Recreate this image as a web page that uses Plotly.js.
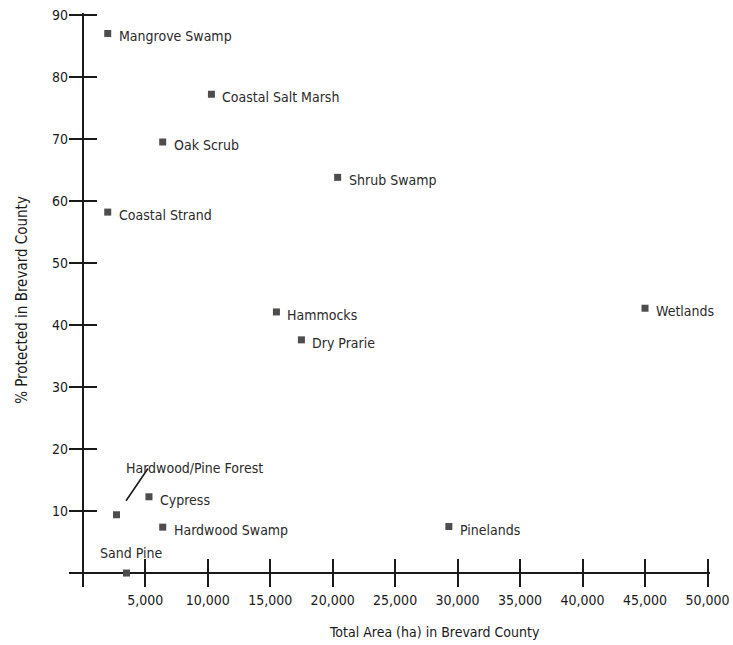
<!DOCTYPE html>
<html>
<head>
<meta charset="utf-8">
<script src="https://cdn.plot.ly/plotly-3.0.1.min.js"></script>
<style>html,body{margin:0;padding:0;background:#fff;}#chart{width:733px;height:645px;}</style>
</head>
<body>
<div id="chart"></div>
<script>
// ---- data ----
var habitats = ["Mangrove Swamp","Coastal Salt Marsh","Oak Scrub","Shrub Swamp","Coastal Strand",
  "Hammocks","Dry Prarie","Wetlands","Pinelands","Hardwood/Pine Forest","Cypress","Hardwood Swamp","Sand Pine"];
var totalArea = [2000, 10300, 6400, 20400, 2000, 15500, 17500, 45000, 29300, 2700, 5300, 6400, 3500];
var pctProtected = [87, 77.2, 69.5, 63.8, 58.2, 42.1, 37.6, 42.7, 7.5, 9.4, 12.3, 7.4, 0];
var xTickVals = [5000,10000,15000,20000,25000,30000,35000,40000,45000,50000];
var xTickText = ["5,000","10,000","15,000","20,000","25,000","30,000","35,000","40,000","45,000","50,000"];
var yTickVals = [10,20,30,40,50,60,70,80,90];
var yTickText = ["10","20","30","40","50","60","70","80","90"];

// ---- styling ----
var FONT = "'DejaVu Sans Condensed', 'DejaVu Sans', sans-serif";
var INK = "#1a1a1a";
// the plot edges sit one half-tick beyond zero, so inside ticks of double length cross the zero lines
var xRange = [-1100, 50200];
var yRange = [-2.25, 90.3];

var calloutName = "Hardwood/Pine Forest";
var belowName = "Sand Pine";

var traces = [
  {
    type: "scatter", mode: "markers",
    x: totalArea, y: pctProtected, text: habitats,
    marker: {symbol: "square", size: 7, color: "#4d4d4d"},
    cliponaxis: false, hoverinfo: "text", showlegend: false
  }
];

var axCommon = {
  showgrid: false, showline: false,
  zeroline: true, zerolinecolor: INK, zerolinewidth: 2,
  ticks: "inside", ticklen: 28, tickwidth: 2, tickcolor: INK,
  tickfont: {family: FONT, size: 14, color: INK}
};

var labelFont = {family: FONT, size: 14, color: "#2a2a2a"};
var annotations = [];
habitats.forEach(function (h, i) {
  var a = {x: totalArea[i], y: pctProtected[i], xref: "x", yref: "y", text: h,
           showarrow: false, font: labelFont};
  if (h === calloutName) {
    a.xanchor = "center"; a.yanchor = "middle"; a.xshift = 78; a.yshift = 47;
    annotations.push({
      x: totalArea[i], y: pctProtected[i], xref: "x", yref: "y", text: " ",
      showarrow: true, arrowhead: 0, arrowwidth: 1.6, arrowcolor: INK,
      ax: 32, ay: -47, standoff: 17, borderpad: 0, font: {family: FONT, size: 1}
    });
  } else if (h === belowName) {
    a.xanchor = "center"; a.yanchor = "middle"; a.xshift = 5; a.yshift = 20;
  } else {
    a.xanchor = "left"; a.yanchor = "middle"; a.xshift = 9; a.yshift = -3;
  }
  annotations.push(a);
});
annotations.push({
  xref: "paper", yref: "paper", x: 0.57, y: 0, yshift: -45, xanchor: "center", yanchor: "middle",
  text: "Total Area (ha) in Brevard County", showarrow: false,
  font: {family: FONT, size: 14, color: INK}
});

var layout = {
  width: 733, height: 645,
  margin: {l: 69, r: 23, t: 13, b: 58},
  paper_bgcolor: "#fff", plot_bgcolor: "#fff",
  showlegend: false,
  xaxis: Object.assign({}, axCommon, {
    range: xRange, tickmode: "array", tickvals: xTickVals, ticktext: xTickText,
    ticklabelstandoff: 3
  }),
  yaxis: Object.assign({}, axCommon, {
    range: yRange, tickmode: "array", tickvals: yTickVals, ticktext: yTickText,
    title: {text: "% Protected in Brevard County", font: {family: FONT, size: 15, color: INK}, standoff: 20}
  }),
  annotations: annotations
};

Plotly.newPlot("chart", traces, layout, {displayModeBar: false, staticPlot: true});
</script>
</body>
</html>
